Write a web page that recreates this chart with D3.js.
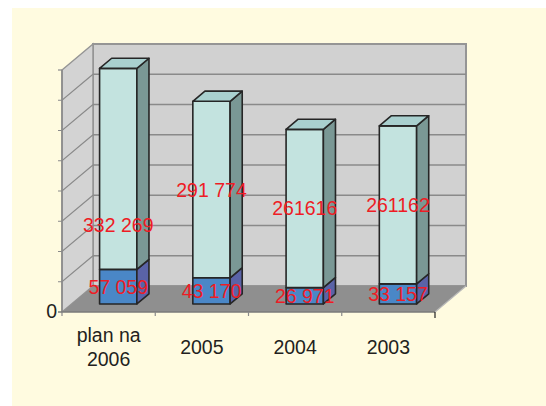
<!DOCTYPE html>
<html>
<head>
<meta charset="utf-8">
<script src="https://cdn.jsdelivr.net/npm/d3@7"></script>
<style>
  body { margin: 0; background: #fff; }
  text { font-family: "Liberation Sans", Arial, sans-serif; }
</style>
</head>
<body>
<svg width="546" height="406"></svg>
<script>
// data
const categories = [['plan na', '2006'], ['2005'], ['2004'], ['2003']];
const baseValues = [57059, 43170, 26971, 33157];
const topValues = [332269, 291774, 261616, 261162];
const baseLabels = ['57 059', '43 170', '26 971', '33 157'];
const topLabels = ['332 269', '291 774', '261616', '261162'];
const yTicks = [0, 50000, 100000, 150000, 200000, 250000, 300000, 350000, 400000];

const svg = d3.select('svg');

// 3d depth of the plot box
const DX = 31, DY = 26;
const d0 = 0.31, d1 = 0.70; // bar depth inside the box

const x = d3.scaleBand().domain(d3.range(categories.length)).range([62, 435]).padding(0);
const y = d3.scaleLinear().domain([0, 400000]).range([312, 70]);

function P(px, v, d) {
  return [px + DX * d, y(v) - DY * d];
}
const line = d3.line();

// background
svg.append('rect').attr('x', 12).attr('y', 8).attr('width', 534).attr('height', 398).attr('fill', '#fffbe0');

// back wall
const wall = svg.append('g');
wall.append('rect')
  .attr('x', 62 + DX).attr('y', y(400000) - DY)
  .attr('width', 435 - 62).attr('height', y(0) - y(400000))
  .attr('fill', '#d1d1d1').attr('stroke', '#959595').attr('stroke-width', 2);
// left wall
wall.append('path')
  .attr('d', line([P(62, 0, 0), P(62, 400000, 0), P(62, 400000, 1), P(62, 0, 1)]) + 'Z')
  .attr('fill', '#d3d3d3').attr('stroke', '#959595').attr('stroke-width', 1.5);

// gridlines
yTicks.slice(1, -1).forEach(t => {
  wall.append('path').attr('d', line([P(62, t, 1), P(435, t, 1)]))
    .attr('stroke', '#8a8a8a').attr('stroke-width', 1.5).attr('fill', 'none');
  wall.append('path').attr('d', line([P(58, t, 0), P(62, t, 0), P(62, t, 1)]))
    .attr('stroke', '#8a8a8a').attr('stroke-width', 1.2).attr('fill', 'none');
});
wall.append('path').attr('d', line([P(58, 400000, 0), P(62, 400000, 0)]))
  .attr('stroke', '#8a8a8a').attr('stroke-width', 1.2);

// floor
svg.append('path')
  .attr('d', line([P(62, 0, 0), P(435, 0, 0), P(435, 0, 1), P(62, 0, 1)]) + 'Z')
  .attr('fill', '#8f8f8f');
svg.append('path').attr('d', line([P(435, 0, 0), P(435, 0, 1)]))
  .attr('stroke', '#b8b8b8').attr('stroke-width', 1.2);

// axes
svg.append('line').attr('x1', 62).attr('x2', 62).attr('y1', y(400000)).attr('y2', y(0))
  .attr('stroke', '#8a8a8a').attr('stroke-width', 1.5);
svg.append('line').attr('x1', 58).attr('x2', 435).attr('y1', y(0)).attr('y2', y(0))
  .attr('stroke', '#7a7a7a').attr('stroke-width', 1.5);
const edges = categories.map((c, i) => x(i)).concat([435]);
edges.forEach((e, i) => {
  svg.append('line').attr('x1', e).attr('x2', e).attr('y1', y(0)).attr('y2', y(0) + (i === edges.length - 1 ? 6 : 4))
    .attr('stroke', i === edges.length - 1 ? '#222' : '#8a8a8a').attr('stroke-width', 1.2);
});
svg.append('text').attr('x', 57).attr('y', 318).attr('text-anchor', 'end')
  .attr('font-size', 19.5).attr('fill', '#231f20').text('0');

// bars
const bw = x.bandwidth() * 0.4;
const colors = {
  base: { front: '#4a87c7', side: '#5a63a7', top: '#6f8fc8' },
  top: { front: '#c3e3df', side: '#7a9895', top: '#a9d0cf' }
};
const bars = svg.append('g').attr('stroke', '#262626').attr('stroke-width', 1.6).attr('stroke-linejoin', 'round');

categories.forEach((c, i) => {
  const x0 = x(i) + (x.bandwidth() - bw) / 2, x1 = x0 + bw;
  const segs = [
    { v0: 0, v1: baseValues[i], col: colors.base },
    { v0: baseValues[i], v1: baseValues[i] + topValues[i], col: colors.top }
  ];
  segs.forEach((s, k) => {
    bars.append('path').attr('fill', s.col.front)
      .attr('d', line([P(x0, s.v0, d0), P(x1, s.v0, d0), P(x1, s.v1, d0), P(x0, s.v1, d0)]) + 'Z');
    bars.append('path').attr('fill', s.col.side)
      .attr('d', line([P(x1, s.v0, d0), P(x1, s.v0, d1), P(x1, s.v1, d1), P(x1, s.v1, d0)]) + 'Z');
    if (k === segs.length - 1) {
      bars.append('path').attr('fill', s.col.top)
        .attr('d', line([P(x0, s.v1, d0), P(x1, s.v1, d0), P(x1, s.v1, d1), P(x0, s.v1, d1)]) + 'Z');
    }
  });
});

// value labels (first top label was moved down in the original)
const firstTopLabelDy = 56;
const labels = svg.append('g').attr('font-size', 19.5).attr('fill', '#ee1c25').attr('text-anchor', 'middle');
categories.forEach((c, i) => {
  const cx = x(i) + x.bandwidth() / 2 + DX * d0;
  const b = baseValues[i], t = topValues[i];
  labels.append('text').attr('x', cx).attr('y', P(0, b / 2, d0)[1] + 7).text(baseLabels[i]);
  labels.append('text').attr('x', cx)
    .attr('y', P(0, b + t / 2, d0)[1] + 7 + (i === 0 ? firstTopLabelDy : 0)).text(topLabels[i]);
});

// category labels
const cats = svg.append('g').attr('font-size', 19.5).attr('fill', '#231f20').attr('text-anchor', 'middle');
categories.forEach((c, i) => {
  const cx = x(i) + x.bandwidth() / 2;
  const base = c.length > 1 ? 342 : 354;
  c.forEach((s, k) => {
    cats.append('text').attr('x', cx).attr('y', base + k * 24).text(s);
  });
});
</script>
</body>
</html>
